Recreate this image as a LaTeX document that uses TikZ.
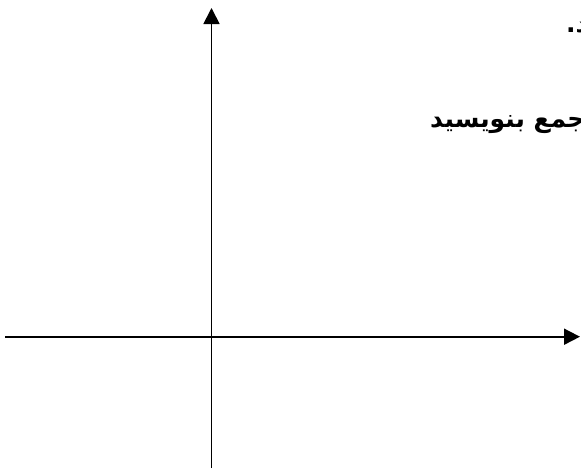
\documentclass[tikz,border=0pt]{standalone}
\usepackage{fontspec}
\usepackage{tikz}
\usetikzlibrary{arrows.meta}
\TeXXeTstate=1
\newfontfamily\arabicfont[Script=Arabic]{DejaVu Sans}

\begin{document}
\begin{tikzpicture}[x=1pt,y=-1pt]
    \useasboundingbox (0,0) rectangle (581,471);
    \clip (0,0) rectangle (581,471);
    \tikzset{axis/.style={line width=1.8pt,-{Triangle[length=16pt,width=16pt]}}}
    % axes
    \coordinate (xstart) at (5,336.7);
    \coordinate (xend) at (580,336.7);
    \coordinate (ystart) at (211.5,468);
    \coordinate (yend) at (211.5,8);
    \draw[axis] (xstart) -- (xend);
    \draw[axis] (ystart) -- (yend);
    % question text, cut off at the right
    \node[anchor=base west,inner sep=0pt] (lineone) at (566,32)
      {\arabicfont\bfseries\fontsize{25}{30}\selectfont\beginR د.\endR};
    \node[anchor=base west,inner sep=0pt] (linetwo) at (430,127)
      {\arabicfont\bfseries\fontsize{25}{30}\selectfont\beginR جمع بنویسید\endR};
\end{tikzpicture}
\end{document}
